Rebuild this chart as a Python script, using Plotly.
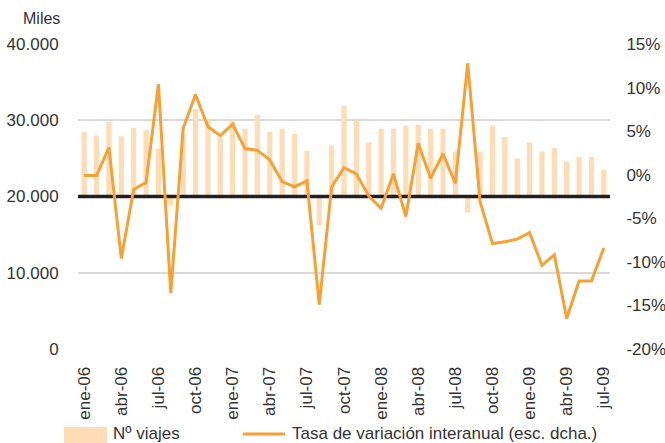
import plotly.graph_objects as go

months = ["ene", "feb", "mar", "abr", "may", "jun", "jul", "ago", "sep", "oct", "nov", "dic"]
categories = [f"{m}-{y:02d}" for y in (6, 7, 8, 9) for m in months][:43]

viajes = [28500, 28000, 29800, 27900, 29000, 28700, 26300, 18800, 28300, 31500, 30000, 27800,
          30000, 28900, 30700, 28500, 28900, 28200, 26000, 16200, 26700, 31900, 30000, 27100,
          28900, 28900, 29300, 29400, 28900, 28900, 25900, 17900, 25900, 29300, 27800, 25000,
          27100, 25900, 26400, 24600, 25200, 25200, 23500]

tasa = [-0.1, -0.1, 3.1, -9.6, -1.7, -0.9, 10.4, -13.6, 5.3, 9.2, 5.5, 4.5,
        5.8, 3.0, 2.8, 1.7, -0.8, -1.4, -0.7, -14.9, -1.4, 0.8, 0.1, -2.45,
        -3.85, 0.1, -4.8, 3.6, -0.4, 2.4, -1.0, 12.8, -3.1, -7.9, -7.7, -7.4,
        -6.65, -10.4, -9.2, -16.5, -12.2, -12.2, -8.4]

tick_labels = categories[::3]
left_ticks = [0, 10000, 20000, 30000, 40000]
left_text = ["0", "10.000", "20.000", "30.000", "40.000"]
right_ticks = [-20, -15, -10, -5, 0, 5, 10, 15]

BASE = 20000
BAR_COLOR = "#FDDCB6"
LINE_COLOR = "#F7A033"
FONT = "Liberation Sans, Arial, Helvetica, sans-serif"
TXT = "#333333"

idx = list(range(len(categories)))

fig = go.Figure()
fig.add_trace(go.Bar(
    x=idx, y=[v - BASE for v in viajes], base=BASE,
    marker=dict(color=BAR_COLOR, line=dict(width=0)), width=0.42,
    name="Nº viajes", yaxis="y", showlegend=False, customdata=categories))
# horizontal axis-crossing line at 20.000 (spans whole plot width)
fig.add_trace(go.Scatter(
    x=[-0.5, len(categories) - 0.5], y=[BASE, BASE], mode="lines",
    line=dict(color="#231F20", width=3.5), yaxis="y", showlegend=False, hoverinfo="skip"))
fig.add_trace(go.Scatter(
    x=idx, y=tasa, mode="lines", line=dict(color=LINE_COLOR, width=3),
    name="Tasa de variación interanual (esc. dcha.)", yaxis="y2", showlegend=False))

W, H = 665, 443
L, R, T, B = 78, 55, 44, 94
pw, ph = W - L - R, H - T - B

def px(x):
    return (x - L) / pw

def py(y):
    return (H - B - y) / ph

# manual legend
fig.add_shape(type="rect", xref="paper", yref="paper", x0=px(64), x1=px(107), y0=py(443), y1=py(427),
              fillcolor=BAR_COLOR, line=dict(width=0))
fig.add_annotation(xref="paper", yref="paper", x=px(111), y=py(433), text="Nº viajes",
                   showarrow=False, xanchor="left", yanchor="middle",
                   font=dict(family=FONT, size=17, color=TXT))
fig.add_shape(type="line", xref="paper", yref="paper", x0=px(243), x1=px(285), y0=py(434), y1=py(434),
              line=dict(color=LINE_COLOR, width=3))
fig.add_annotation(xref="paper", yref="paper", x=px(290), y=py(433),
                   text="Tasa de variación interanual (esc. dcha.)",
                   showarrow=False, xanchor="left", yanchor="middle",
                   font=dict(family=FONT, size=17, color=TXT))
fig.add_annotation(xref="paper", yref="paper", x=px(62), y=py(19), text="Miles",
                   showarrow=False, xanchor="right", yanchor="middle",
                   font=dict(family=FONT, size=16, color=TXT))

fig.update_layout(
    width=W, height=H,
    margin=dict(l=L, r=R, t=T, b=B, pad=0, autoexpand=False),
    paper_bgcolor="white", plot_bgcolor="white",
    font=dict(family=FONT, size=17, color=TXT),
    xaxis=dict(tickmode="array", tickvals=idx[::3], ticktext=tick_labels,
               tickangle=-90, showgrid=False, showline=False, zeroline=False,
               ticks="outside", ticklen=10, tickcolor="rgba(0,0,0,0)",
               tickfont=dict(size=17, color=TXT), range=[-0.5, len(categories) - 0.5]),
    yaxis=dict(range=[0, 40000], tickmode="array", tickvals=left_ticks, ticktext=left_text,
               showgrid=True, gridcolor="#D9D9D9", gridwidth=1.5, zeroline=False, showline=False,
               ticks="outside", ticklen=15, tickcolor="rgba(0,0,0,0)",
               tickfont=dict(size=17, color=TXT)),
    yaxis2=dict(range=[-20, 15], tickmode="array", tickvals=right_ticks,
                ticktext=[f"{v}%" for v in right_ticks], overlaying="y", side="right",
                showgrid=False, zeroline=False, showline=False,
                ticks="outside", ticklen=12, tickcolor="rgba(0,0,0,0)",
                tickfont=dict(size=17, color=TXT)),
)

fig.write_html("out.html", config={"displayModeBar": False},
               post_script="document.body.style.margin='0px';document.body.style.overflow='hidden';")
